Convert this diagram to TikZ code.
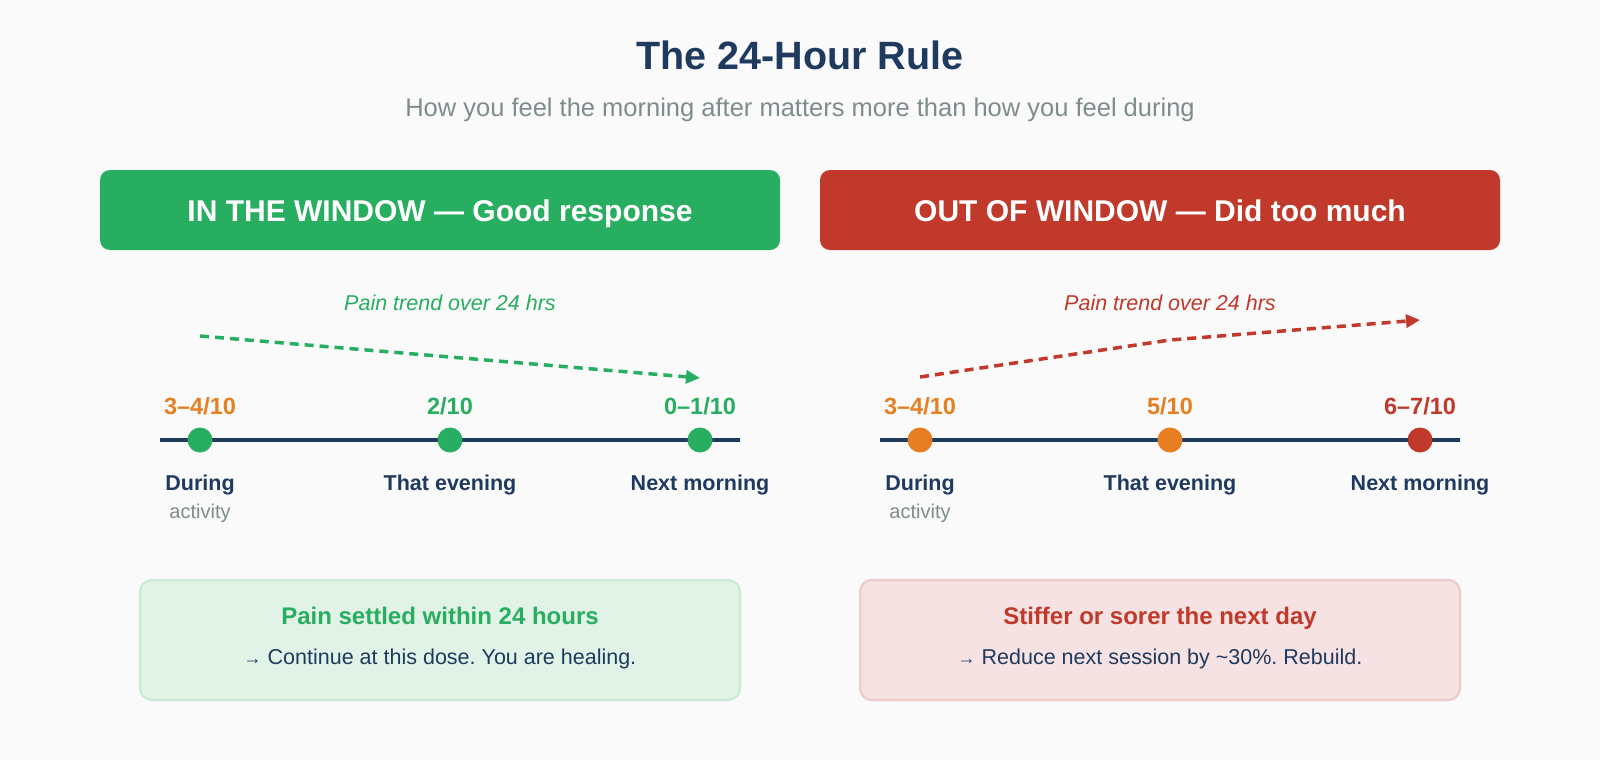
\documentclass[tikz,border=0pt]{standalone}
\usepackage{fontspec}
\setmainfont{Liberation Sans}
\usetikzlibrary{arrows.meta}
\frenchspacing
\definecolor{bgc}{HTML}{FAFAFA}
\definecolor{navy}{HTML}{1E3A5F}
\definecolor{greyc}{HTML}{7F8C8D}
\definecolor{okgreen}{HTML}{27AE60}
\definecolor{badred}{HTML}{C0392B}
\definecolor{warnorange}{HTML}{E67E22}
\definecolor{okfill}{HTML}{E1F2E7}
\definecolor{okline}{HTML}{CCEAD7}
\definecolor{badfill}{HTML}{F6E2E2}
\definecolor{badline}{HTML}{F0CDCD}
\newcommand{\fs}[1]{\fontsize{#1}{#1}\selectfont}
\tikzset{
  txt/.style={inner sep=0pt, anchor=base},
  hdrbox/.style={rounded corners=10pt, minimum width=680pt, minimum height=80pt, inner sep=0pt},
  hdrtxt/.style={txt, text=white, font=\fs{30}\bfseries},
  tline/.style={draw=navy, line width=4pt},
  dot/.style={circle, minimum size=25pt, inner sep=0pt},
  score/.style={txt, font=\fs{23.5}\bfseries},
  when/.style={txt, text=navy, font=\fs{21.5}\bfseries},
  sub/.style={txt, text=greyc, font=\fs{20}},
  trendlbl/.style={txt, font=\fs{21.5}\itshape},
  trend/.style={line width=3.5pt, dash pattern=on 9pt off 6pt, -{Triangle[length=14pt,width=13pt]}},
  outbox/.style={rounded corners=12pt, minimum width=600pt, minimum height=120pt, inner sep=0pt, line width=2.5pt},
  outtitle/.style={txt, font=\fs{24}\bfseries},
  outbody/.style={txt, text=navy, font=\fs{21.5}},
}
\begin{document}
\begin{tikzpicture}[x=1pt,y=-1pt]
\useasboundingbox (0,0) rectangle (1600,760);
\fill[bgc] (0,0) rectangle (1600,760);

% title
\node[txt, text=navy, font=\fs{39.5}\bfseries] (title) at (800,70) {The 24-Hour Rule};
\node[txt, text=greyc, font=\fs{25.5}] (subtitle) at (800,116) {How you feel the morning after matters more than how you feel during};

% header boxes
\node[hdrbox, fill=okgreen] (hl) at (440,210) {};
\node[hdrtxt] (hlt) at (440,221) {IN THE WINDOW — Good response};
\node[hdrbox, fill=badred] (hr) at (1160,210) {};
\node[hdrtxt] (hrt) at (1160,221) {OUT OF WINDOW — Did too much};

% trend labels
\node[trendlbl, text=okgreen] (tl1) at (450,310) {Pain trend over 24 hrs};
\node[trendlbl, text=badred] (tl2) at (1170,310) {Pain trend over 24 hrs};

% trend arrows
\coordinate (g1) at (200,336);
\coordinate (g2) at (450,357);
\coordinate (g3) at (700,378);
\draw[trend, draw=okgreen] (g1) -- (g2) -- (g3);
\coordinate (r1) at (920,377);
\coordinate (r2) at (1170,340);
\coordinate (r3) at (1420,320);
\draw[trend, draw=badred] (r1) -- (r2) -- (r3);

% timelines
\coordinate (la) at (160,440);
\coordinate (lb) at (740,440);
\draw[tline] (la) -- (lb);
\coordinate (ra) at (880,440);
\coordinate (rb) at (1460,440);
\draw[tline] (ra) -- (rb);

\node[dot, fill=okgreen] (d1) at (200,440) {};
\node[dot, fill=okgreen] (d2) at (450,440) {};
\node[dot, fill=okgreen] (d3) at (700,440) {};
\node[dot, fill=warnorange] (e1) at (920,440) {};
\node[dot, fill=warnorange] (e2) at (1170,440) {};
\node[dot, fill=badred] (e3) at (1420,440) {};

% scores
\node[score, text=warnorange] (s1) at (200,414) {3–4/10};
\node[score, text=okgreen] (s2) at (450,414) {2/10};
\node[score, text=okgreen] (s3) at (700,414) {0–1/10};
\node[score, text=warnorange] (t1) at (920,414) {3–4/10};
\node[score, text=warnorange] (t2) at (1170,414) {5/10};
\node[score, text=badred] (t3) at (1420,414) {6–7/10};

% time labels
\node[when] (w1) at (200,490) {During};
\node[sub] (a1) at (200,518) {activity};
\node[when] (w2) at (450,490) {That evening};
\node[when] (w3) at (700,490) {Next morning};
\node[when] (x1) at (920,490) {During};
\node[sub] (a2) at (920,518) {activity};
\node[when] (x2) at (1170,490) {That evening};
\node[when] (x3) at (1420,490) {Next morning};

% outcome boxes
\node[outbox, fill=okfill, draw=okline] (ob1) at (440,640) {};
\node[outtitle, text=okgreen] (ot1) at (440,624) {Pain settled within 24 hours};
\node[outbody] (obt1) at (440,664) {{\fs{18}→} Continue at this dose. You are healing.};
\node[outbox, fill=badfill, draw=badline] (ob2) at (1160,640) {};
\node[outtitle, text=badred] (ot2) at (1160,624) {Stiffer or sorer the next day};
\node[outbody] (obt2) at (1160,664) {{\fs{18}→} Reduce next session by \textasciitilde30\%. Rebuild.};
\end{tikzpicture}
\end{document}
